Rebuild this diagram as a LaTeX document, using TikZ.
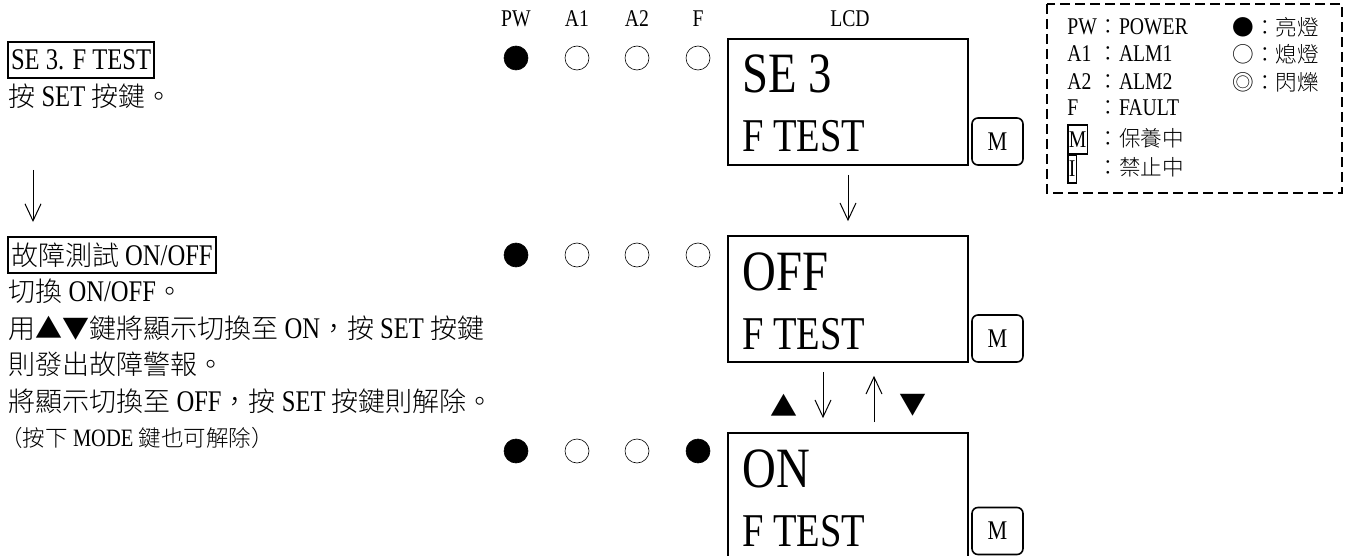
\documentclass[tikz,border=0pt]{standalone}
\usepackage{fontspec}
\setmainfont{Liberation Serif}[FakeStretch=0.82]
\newfontfamily\zhfont{Noto Sans CJK TC}[Scale=0.9,UprightFont=* Light]
\newcommand{\zh}[1]{{\zhfont #1}}
\usetikzlibrary{arrows.meta}

\tikzset{
  body/.style={anchor=base west,inner sep=0pt,font=\fontsize{15}{18}\selectfont},
  titlebox/.style={draw,line width=1pt,anchor=west,inner xsep=1.5pt,inner ysep=0pt,minimum height=18pt,font=\fontsize{15}{18}\selectfont},
  ledlabel/.style={inner sep=0pt,font=\fontsize{12}{14}\selectfont},
  led/.style={circle,draw,line width=0.3pt,minimum size=12pt,inner sep=0pt},
  ledon/.style={led,fill},
  lcd/.style={draw,line width=0.85pt,minimum width=120pt,minimum height=63pt,inner sep=0pt},
  lcdbig/.style={anchor=base west,inner sep=0pt,font=\fontsize{28.5}{30}\selectfont},
  lcdsmall/.style={anchor=base west,inner sep=0pt,font=\fontsize{23.5}{26}\selectfont},
  mkey/.style={draw,line width=0.8pt,rounded corners=3pt,minimum width=25.5pt,minimum height=23.5pt,inner sep=0pt,font=\fontsize{13.5}{14}\selectfont},
  flow/.style={line width=0.5pt,-{Straight Barb[length=8.5pt,width=8pt]}},
  keytri/.style={inner sep=0pt,font=\fontsize{15}{15}\selectfont},
  legtxt/.style={anchor=west,inner sep=0pt,font=\fontsize{12}{13}\selectfont},
  legbox/.style={legtxt,draw,line width=0.8pt,inner xsep=0.5pt}
}

\begin{document}
\begin{tikzpicture}[x=0.5pt,y=-0.5pt]
  \useasboundingbox (0,0) rectangle (1350,556);
  \clip (0,0) rectangle (1350,556);

  % left: steps
  \node[titlebox] (t1) at (7,60) {SE 3. F TEST};
  \node[body] (l1) at (8,107) {\zh{按} SET \zh{按鍵。}};
  \coordinate (s1) at (33,170);
  \coordinate (s2) at (33,222);
  \draw[flow] (s1) -- (s2);
  \node[titlebox] (t2) at (7,255) {\zh{故障測試} ON/OFF};
  \node[body] (l2) at (8,301.5) {\zh{切換} ON/OFF\zh{。}};
  \node[body] (l3) at (8,338) {\zh{用▲▼鍵將顯示切換至} ON\zh{，按} SET \zh{按鍵}};
  \node[body] (l4) at (8,374.5) {\zh{則發出故障警報。}};
  \node[body] (l5) at (8,411) {\zh{將顯示切換至} OFF\zh{，按} SET \zh{按鍵則解除。}};
  \node[body,font=\fontsize{12.5}{15}\selectfont] (l6) at (0,446) {\zh{（按下} MODE \zh{鍵也可解除）}};

  % LED labels
  \foreach \lx/\ln in {516/PW,577/A1,637/A2,698/F}
    \node[ledlabel] (lab\ln) at (\lx,19) {\ln};
  \node[ledlabel] (labLCD) at (850,19) {LCD};

  % LEDs
  \foreach \ly [count=\r] in {58,255,451} {
    \node[ledon] (pw\r) at (516,\ly) {};
    \node[led] (aa\r) at (577,\ly) {};
    \node[led] (ab\r) at (637,\ly) {};
  }
  \node[led] (f1) at (698,58) {};
  \node[led] (f2) at (698,255) {};
  \node[ledon] (f3) at (698,451) {};

  % LCD screens
  \node[lcd] (lcd1) at (848,102) {};
  \node[lcdbig] (d1) at (742,93) {SE 3};
  \node[lcdsmall] (e1) at (742,152) {F TEST};
  \node[mkey] (m1) at (997.5,141.5) {M};

  \node[lcd] (lcd2) at (848,299) {};
  \node[lcdbig] (d2) at (742,290) {OFF};
  \node[lcdsmall] (e2) at (742,349) {F TEST};
  \node[mkey] (m2) at (997.5,338.5) {M};

  \node[lcd] (lcd3) at (848,496) {};
  \node[lcdbig] (d3) at (742,487) {ON};
  \node[lcdsmall] (e3) at (742,546) {F TEST};
  \node[mkey] (m3) at (997.5,531) {M};

  % transitions
  \draw[flow] ([yshift=-4.5pt]lcd1.south) -- ([yshift=7pt]lcd2.north);
  \draw[flow] ([xshift=-12.5pt,yshift=-4.5pt]lcd2.south) -- ([xshift=-12.5pt,yshift=7pt]lcd3.north);
  \draw[flow] ([xshift=13pt,yshift=5pt]lcd3.north) -- ([xshift=13pt,yshift=-6.5pt]lcd2.south);
  \node[keytri] (up) at (784,405) {\zh{▲}};
  \node[keytri] (dn) at (913,405) {\zh{▼}};

  % legend
  \draw[line width=1.25pt,dash pattern=on 5pt off 2.5pt] (1047,4) rectangle (1342,193);
  \foreach \ly/\k/\v in {27/PW/POWER,54/A1/ALM1,82/A2/ALM2,108/F/FAULT} {
    \node[legtxt] (k\k) at (1067,\ly) {\k};
    \node[legtxt] (v\k) at (1097,\ly) {\zh{：}\v};
  }
  \node[legbox,minimum height=14.5pt] (kM) at (1067,139.5) {M};
  \node[legtxt] (vM) at (1097,138) {\zh{：保養中}};
  \node[legbox,minimum height=14pt] (kI) at (1067,169) {I};
  \node[legtxt] (vI) at (1097,167) {\zh{：禁止中}};
  \node[legtxt] (sOn) at (1232,27) {\zh{●：亮燈}};
  \node[legtxt] (sOff) at (1232,54) {\zh{○：熄燈}};
  \node[legtxt] (sBlink) at (1232,82) {\zh{◎：閃爍}};
\end{tikzpicture}
\end{document}
